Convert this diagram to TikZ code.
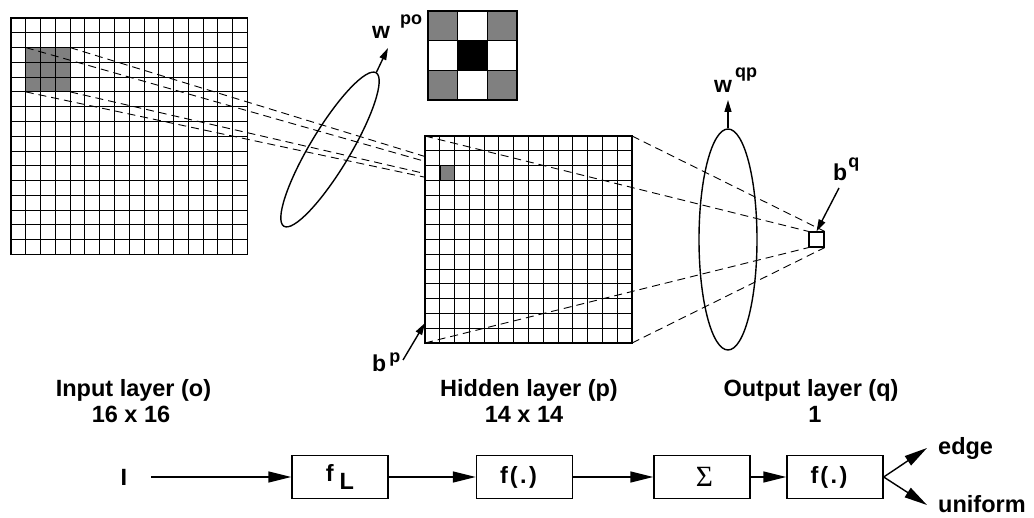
\documentclass[tikz,border=0pt]{standalone}
\usepackage{fontspec}
\setmainfont{Liberation Sans}
\newfontfamily\sigfont{Liberation Serif}
\usetikzlibrary{shapes.geometric,arrows.meta,positioning}

\begin{document}
\begin{tikzpicture}[x=1pt,y=-1pt,
    lbl/.style={font=\bfseries\fontsize{23.5}{27}\selectfont, inner sep=0pt},
    wlbl/.style={font=\bfseries\fontsize{23}{23}\selectfont, inner sep=0pt},
    chn/.style={font=\bfseries\fontsize{23.5}{23.5}\selectfont, inner sep=0pt},
    blk/.style={draw, line width=1.4pt, minimum width=96pt, minimum height=43pt, inner sep=0pt, font=\bfseries\fontsize{23.5}{23.5}\selectfont},
    proj/.style={dash pattern=on 8pt off 5pt, line width=0.9pt},
    bigarr/.style={line width=1.4pt, -{Triangle[length=23pt,width=11pt]}},
    smallarr/.style={line width=1.4pt, -{Triangle[length=12pt,width=7pt]}}]
    \useasboundingbox (0,0) rectangle (1034,518);
    % input layer
    \fill[black!50] (25.8,47.6) rectangle (70.1,91.9);
    \foreach \i in {1,...,15} {
        \draw[line width=1pt] (11+\i*14.78,18) -- (11+\i*14.78,254.5);
        \draw[line width=1pt] (11,18+\i*14.78) -- (247.5,18+\i*14.78);
    }
    \draw[line width=1.6pt] (11,18) rectangle (247.5,254.5);
    \coordinate (pa) at (25.8,47.6);
    \coordinate (pb) at (70.1,47.6);
    \coordinate (pc) at (25.8,91.9);
    \coordinate (pd) at (70.1,91.9);
    \coordinate (ca) at (439.8,165.6);
    \coordinate (cb) at (454.6,165.6);
    \coordinate (cc) at (439.8,180.4);
    \coordinate (cd) at (454.6,180.4);
    \foreach \s/\t in {pa/ca,pb/cb,pc/cc,pd/cd}
        \draw[proj] (\s) -- (\t);
    % hidden layer
    \fill[white] (425,136) rectangle (632,343);
    \fill[black!50] (ca) rectangle (cd);
    \foreach \i in {1,...,13} {
        \draw[line width=1pt] (425+\i*14.79,136) -- (425+\i*14.79,343);
        \draw[line width=1pt] (425,136+\i*14.79) -- (632,136+\i*14.79);
    }
    \draw[line width=1.6pt] (425,136) rectangle (632,343);
    \draw[line width=1.6pt] (ca) rectangle (cd);
    \coordinate (ha) at (425,136);
    \coordinate (hb) at (632,136);
    \coordinate (hc) at (425,343);
    \coordinate (hd) at (632,343);
    % output unit
    \node[draw, line width=1.2pt, minimum size=15pt, inner sep=0pt] (out) at (816.5,239.5) {};
    \draw[proj] (ha) -- (out.north west);
    \draw[proj] (hb) -- (out.north east);
    \draw[proj] (hc) -- (out.south west);
    \draw[proj] (hd) -- (out.south east);
    % kernel
    \foreach \row/\cl/\col in {0/0/black!50,0/2/black!50,1/1/black,2/0/black!50,2/2/black!50}
        \fill[\col] (428+\cl*29.7,11+\row*29.6) rectangle ++(29.7,29.6);
    \foreach \i in {1,2} {
        \draw[line width=1.3pt] (428+\i*29.7,11) -- (428+\i*29.7,99.8);
        \draw[line width=1.3pt] (428,11+\i*29.6) -- (517.1,11+\i*29.6);
    }
    \draw[line width=1.8pt] (428,11) rectangle (517.1,99.8);
    % weights
    \node[draw, ellipse, line width=1.4pt, rotate=59, minimum width=179pt, minimum height=40pt, inner sep=0pt] (wpo) at (330,149.5) {};
    \coordinate (wpotip) at (388,48);
    \draw[smallarr] (wpo.east) -- (wpotip);
    \node[wlbl, anchor=base west] (wpolbl) at (372,39) {w\kern10pt\raisebox{14pt}{\fontsize{18}{18}\selectfont po}};
    \node[draw, ellipse, line width=1.4pt, minimum width=58pt, minimum height=221pt, inner sep=0pt] (wqp) at (728,239.5) {};
    \coordinate (wqptip) at (728,100);
    \draw[smallarr] (wqp.north) -- (wqptip);
    \node[wlbl, anchor=base west] (wqplbl) at (714,93) {w\kern3pt\raisebox{15pt}{\fontsize{18}{18}\selectfont qp}};
    % biases
    \coordinate (bqtail) at (839,188);
    \draw[smallarr] (bqtail) -- (out.north);
    \node[wlbl, anchor=base west] (bqlbl) at (833,181) {b\kern1pt\raisebox{13pt}{\fontsize{18}{18}\selectfont q}};
    \coordinate (bptail) at (403,360);
    \coordinate (bptip) at (425,323);
    \draw[smallarr] (bptail) -- (bptip);
    \node[wlbl, anchor=base west] (bplbl) at (372,372) {b\kern3pt\raisebox{9pt}{\fontsize{18}{18}\selectfont p}};
    % layer names
    \node[lbl, anchor=base] (inname) at (133.5,397) {Input layer (o)};
    \node[lbl, anchor=base] (insize) at (131,423) {16 x 16};
    \node[lbl, anchor=base] (hidname) at (529,397) {Hidden layer (p)};
    \node[lbl, anchor=base] (hidsize) at (524,423) {14 x 14};
    \node[lbl, anchor=base] (outname) at (811,397) {Output layer (q)};
    \node[lbl, anchor=base] (outsize) at (815,423) {1};
    % processing chain
    \node[chn] (inp) at (124,477) {I};
    \node[blk] (fL) at (340,477) {f\kern6pt\raisebox{-8pt}{L}};
    \node[blk] (fa) at (524.5,477) {f\kern2pt(\kern2.5pt.\kern2.5pt)\kern12pt};
    \node[blk] (sig) at (702,477) {\kern5pt\sigfont\mdseries\scalebox{1.25}{Σ}};
    \node[blk] (fb) at (835,477) {f\kern2pt(\kern2.5pt.\kern2.5pt)\kern12pt};
    \draw[bigarr, shorten <=24pt] (inp) -- (fL);
    \draw[bigarr] (fL) -- (fa);
    \draw[bigarr] (fa) -- (sig);
    \draw[bigarr] (sig) -- (fb);
    \coordinate (edgetip) at (927,448);
    \coordinate (unitip) at (927,505);
    \draw[bigarr] (fb.east) -- (edgetip);
    \draw[bigarr] (fb.east) -- (unitip);
    \node[chn, anchor=base west] (edge) at (938,455) {edge};
    \node[chn, anchor=base west] (unif) at (938,512) {uniform};
\end{tikzpicture}
\end{document}
